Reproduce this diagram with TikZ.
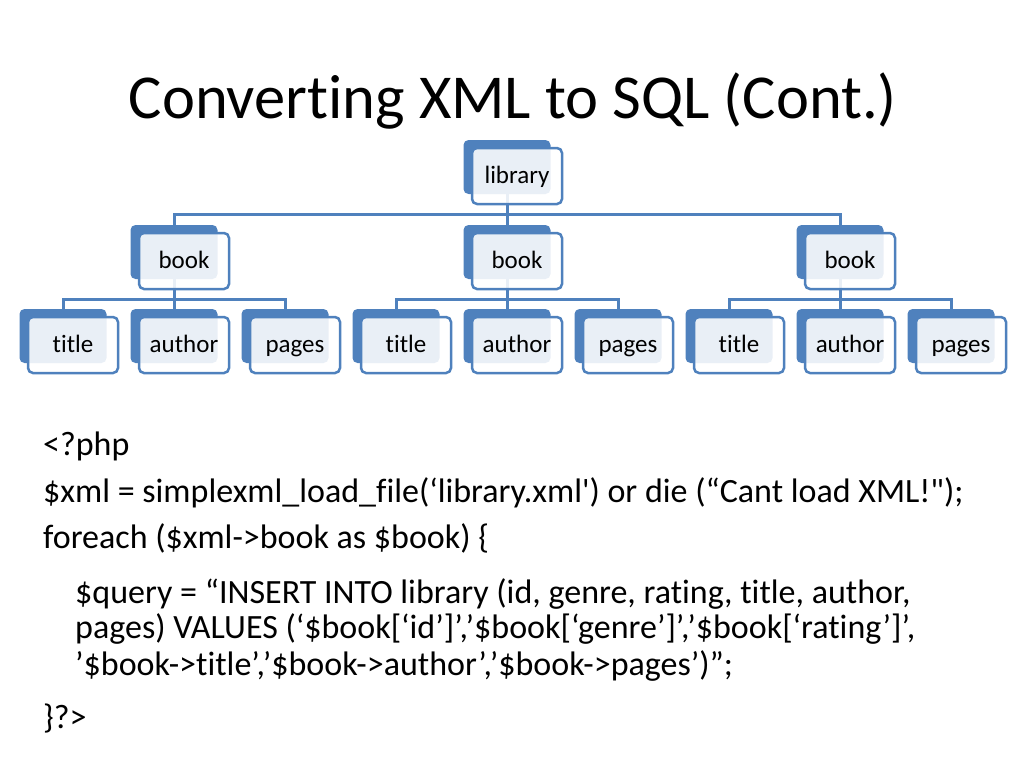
\documentclass[tikz,border=0pt]{standalone}
\usepackage{fontspec}
\setmainfont{Carlito}[Ligatures={TeX,NoCommon}]
\definecolor{boxblue}{HTML}{4F81BD}

\tikzset{
  back/.style={rectangle, rounded corners=5pt, fill=boxblue, minimum width=87pt, minimum height=54pt, inner sep=0pt},
  front/.style={rectangle, rounded corners=5pt, draw=boxblue, line width=2.5pt, fill=white, fill opacity=0.88, text opacity=1,
    minimum width=90pt, minimum height=56pt, inner sep=0pt, text height=18pt, text depth=3pt, font=\fontsize{25}{30}\selectfont},
  link/.style={draw=boxblue, line width=3pt},
  code/.style={anchor=base west, inner sep=0pt, font=\fontsize{34}{40}\selectfont}
}

\begin{document}
\begin{tikzpicture}[x=1pt, y=-1pt]
            \useasboundingbox (0,0) rectangle (1024,768);

            \node[anchor=base, inner sep=0pt, font=\fontsize{62.5}{74}\selectfont] (title) at (513,118) {Converting XML to SQL (Cont.)};

            % back boxes
            \node[back] (lib) at (507,167) {};
            \node[back] (bk1) at (174,252) {};
            \node[back] (bk2) at (507,252) {};
            \node[back] (bk3) at (840,252) {};
            \node[back] (t1) at (63,336) {};
            \node[back] (a1) at (174,336) {};
            \node[back] (p1) at (285,336) {};
            \node[back] (t2) at (396,336) {};
            \node[back] (a2) at (507,336) {};
            \node[back] (p2) at (618,336) {};
            \node[back] (t3) at (729,336) {};
            \node[back] (a3) at (840,336) {};
            \node[back] (p3) at (951,336) {};

            \draw[link] (lib.south) -- ++(0,20) -| (bk1.north);
            \draw[link] (lib.south) -- (bk2.north);
            \draw[link] (lib.south) -- ++(0,20) -| (bk3.north);
            \draw[link] (bk1.south) -- ++(0,20) -| (t1.north);
            \draw[link] (bk1.south) -- (a1.north);
            \draw[link] (bk1.south) -- ++(0,20) -| (p1.north);
            \draw[link] (bk2.south) -- ++(0,20) -| (t2.north);
            \draw[link] (bk2.south) -- (a2.north);
            \draw[link] (bk2.south) -- ++(0,20) -| (p2.north);
            \draw[link] (bk3.south) -- ++(0,20) -| (t3.north);
            \draw[link] (bk3.south) -- (a3.north);
            \draw[link] (bk3.south) -- ++(0,20) -| (p3.north);

            % front boxes
            \node[front] (libF) at ([shift={(10,9)}]lib.center) {library};
            \node[front] (bk1F) at ([shift={(10,9)}]bk1.center) {book};
            \node[front] (bk2F) at ([shift={(10,9)}]bk2.center) {book};
            \node[front] (bk3F) at ([shift={(10,9)}]bk3.center) {book};
            \node[front] (t1F) at ([shift={(10,9)}]t1.center) {title};
            \node[front] (a1F) at ([shift={(10,9)}]a1.center) {author};
            \node[front] (p1F) at ([shift={(10,9)}]p1.center) {pages};
            \node[front] (t2F) at ([shift={(10,9)}]t2.center) {title};
            \node[front] (a2F) at ([shift={(10,9)}]a2.center) {author};
            \node[front] (p2F) at ([shift={(10,9)}]p2.center) {pages};
            \node[front] (t3F) at ([shift={(10,9)}]t3.center) {title};
            \node[front] (a3F) at ([shift={(10,9)}]a3.center) {author};
            \node[front] (p3F) at ([shift={(10,9)}]p3.center) {pages};

            % php code
            \node[code] (l1) at (43,455) {<?php};
            \node[code] (l2) at (43,502) {\$xml = simplexml\_load\_file(‘library.xml\textquotesingle) or die (“Cant load XML!\textquotedbl);};
            \node[code] (l3) at (43,548) {foreach (\$xml->book as \$book) \{};
            \node[code] (l4) at (75,603) {\$query = “INSERT INTO library (id, genre, rating, title, author,};
            \node[code] (l5) at (75,638) {pages) VALUES (‘\$book[‘id’]’,’\$book[‘genre’]’,’\$book[‘rating’]’,};
            \node[code] (l6) at (75,675) {’\$book->title’,’\$book->author’,’\$book->pages’)”;};
            \node[code] (l7) at (43,728) {\}?>};
        \end{tikzpicture}
\end{document}
